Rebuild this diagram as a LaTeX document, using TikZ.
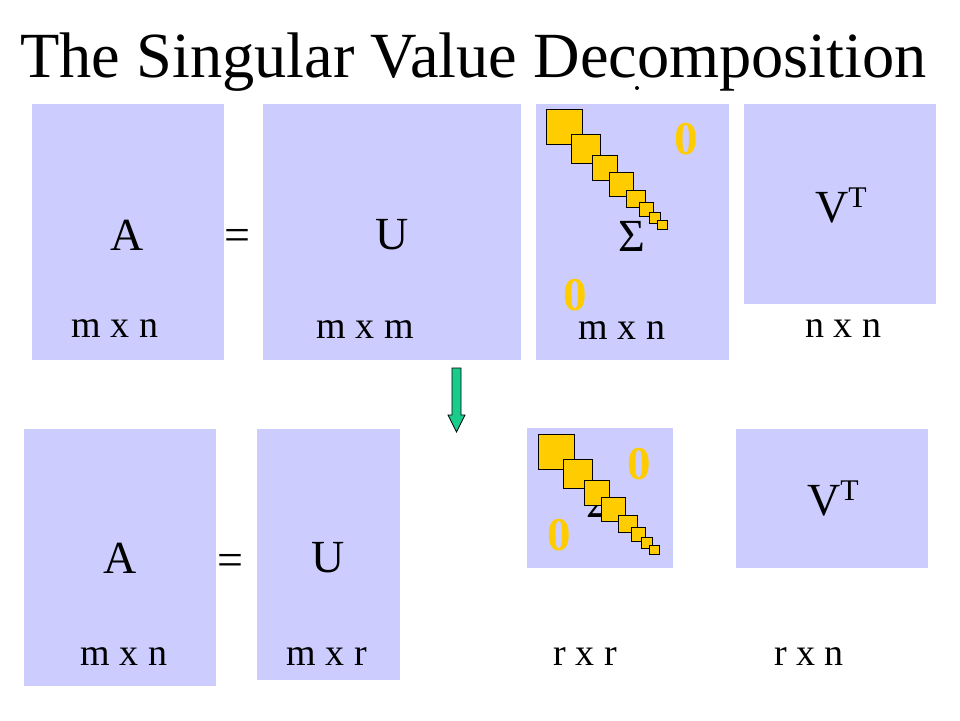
\documentclass[tikz,border=0pt]{standalone}
\usepackage{fontspec}
\setmainfont{Liberation Serif}
\begin{document}
\begin{tikzpicture}[x=1pt,y=-1pt,
  mat/.style={fill=boxblue,draw=none,inner sep=0pt,anchor=north west},
  big/.style={font=\fontsize{46}{46}\selectfont,anchor=base,inner sep=0pt},
  dim/.style={font=\fontsize{38}{38}\selectfont,anchor=base,inner sep=0pt},
  zero/.style={font=\fontsize{47}{47}\selectfont\bfseries,text=zerocol,anchor=center,inner sep=0pt},
  sq/.style={fill=sqyellow,draw=black,line width=0.9pt},
]
\definecolor{boxblue}{RGB}{204,204,255}
\definecolor{sqyellow}{RGB}{255,204,0}
\definecolor{zerocol}{RGB}{255,204,0}
\definecolor{arrowgreen}{RGB}{26,204,140}
\useasboundingbox (0,0) rectangle (960,720);
\fill[white] (0,0) rectangle (960,720);

% title
\node[font=\fontsize{64.4}{64.4}\selectfont,anchor=base west,inner sep=0pt] (title) at (20,77) {The Singular Value Decomposition};
\fill (637,88) circle (2);

% top row boxes
\node[mat,minimum width=192pt,minimum height=256pt] (A1) at (32,104) {};
\node[mat,minimum width=258pt,minimum height=256pt] (U1) at (263,104) {};
\node[mat,minimum width=193pt,minimum height=256pt] (S1) at (536,104) {};
\node[mat,minimum width=192pt,minimum height=200pt] (V1) at (744,104) {};

% bottom row boxes
\node[mat,minimum width=192pt,minimum height=257pt] (A2) at (24,429) {};
\node[mat,minimum width=143pt,minimum height=251pt] (U2) at (257,429) {};
\node[mat,minimum width=146pt,minimum height=140pt] (S2) at (527,428) {};
\node[mat,minimum width=192pt,minimum height=139pt] (V2) at (736,429) {};

% top squares
\foreach \xa/\ya/\xb/\yb in {546/109/582/144,571/134/600/163,592/155/617/180,609/172/633/196,626/190/645/207,639/202/653/216,649/212/660/223,657/220/667/229}
  \draw[sq] (\xa,\ya) rectangle (\xb,\yb);

% bottom Sigma (behind squares)
\node[big] (sig2) at (600,517) {Σ};
\foreach \xa/\ya/\xb/\yb in {546/109/582/144,571/134/600/163,592/155/617/180,609/172/633/196,626/190/645/207,639/202/653/216,649/212/660/223,657/220/667/229}
  \draw[sq] (\xa-8,\ya+325) rectangle (\xb-8,\yb+325);

% top labels
\node[big] (tA) at (127,250) {A};
\node[big] (teq) at (237,250) {=};
\node[big] (tU) at (392,249) {U};
\node[big] (tS) at (632,251) {Σ};
\node[big] (tV) at (841,222) {V\raisebox{15pt}{\fontsize{30}{30}\selectfont T}};
\node[zero] (z1) at (686,139) {0};
\node[zero] (z2) at (575,295) {0};
\node[dim] (d1) at (115,337) {m x n};
\node[dim] (d2) at (365,338) {m x m};
\node[dim] (d3) at (622,339) {m x n};
\node[dim] (d4) at (843,337) {n x n};

% arrow
\filldraw[fill=arrowgreen,draw=black,line width=0.8pt]
  (452,368) -- (461,368) -- (461,415) -- (465,415) -- (456.5,432) -- (448,415) -- (452,415) -- cycle;

% bottom labels
\node[big] (bA) at (120,573) {A};
\node[big] (beq) at (230,575) {=};
\node[big] (bU) at (328,572) {U};
\node[big] (bV) at (833,515) {V\raisebox{15pt}{\fontsize{30}{30}\selectfont T}};
\node[zero] (z3) at (639,464) {0};
\node[zero] (z4) at (559,535) {0};
\node[dim] (e1) at (124,665) {m x n};
\node[dim] (e2) at (327,665) {m x r};
\node[dim] (e3) at (585,665) {r x r};
\node[dim] (e4) at (809,665) {r x n};
\end{tikzpicture}
\end{document}
